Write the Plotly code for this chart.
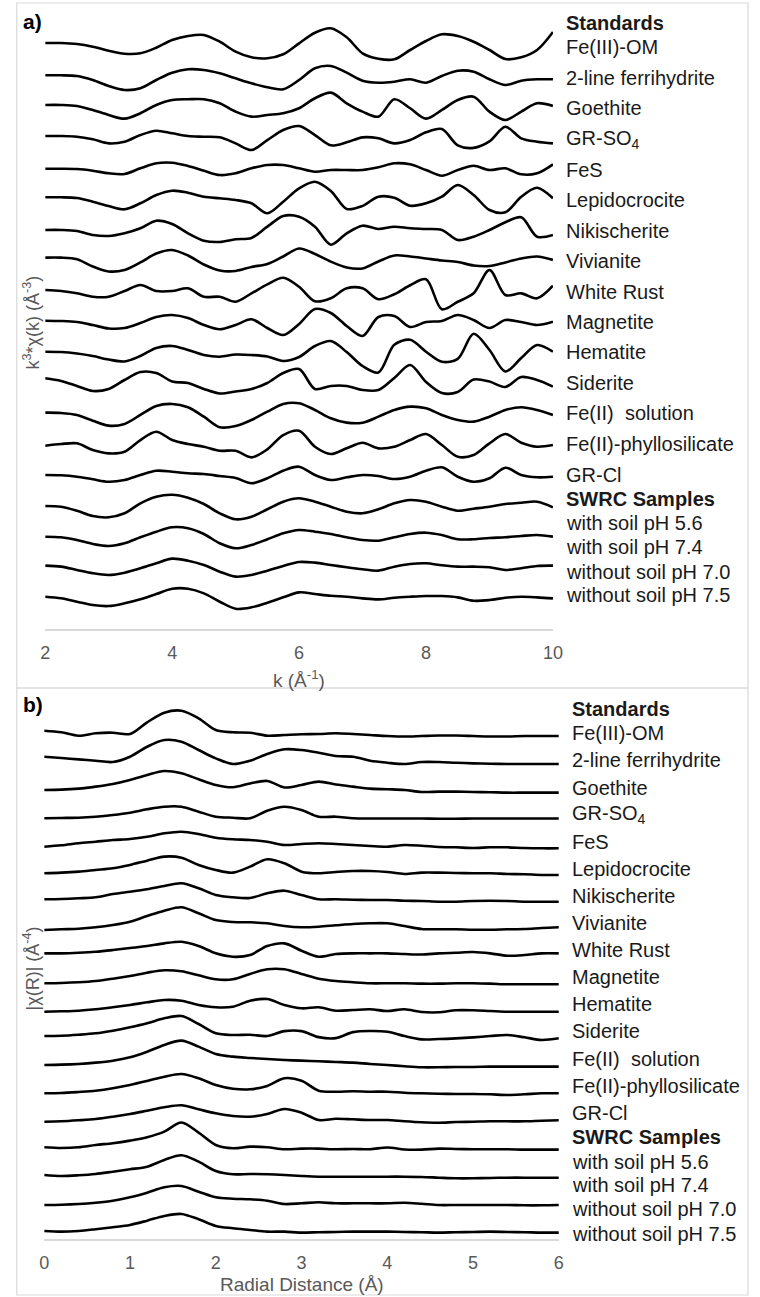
import plotly.graph_objects as go

W, H = 760, 1297

# ---------------- data: panel a, k^3*chi(k) ----------------
K = [2.0, 2.25, 2.5, 2.75, 3.0, 3.25, 3.5, 3.75, 4.0, 4.25, 4.5, 4.75, 5.0, 5.25, 5.5, 5.75,
     6.0, 6.25, 6.5, 6.75, 7.0, 7.25, 7.5, 7.75, 8.0, 8.25, 8.5, 8.75, 9.0, 9.25, 9.5, 9.75, 10.0]

k_fe3_om = [0, 0, -1, -3.7, -7.7, -10.7, -10.3, -4.7, 3, 7, 8, 1.3, -8.7, -14.3, -15.3, -11.3, -0.3, 10.3, 14.7, 5.7, -10.3, -15.7, -16.3, -7, 2, 8.7, 7, 1.3, -7, -16, -14.3, -7, 11]
k_ferrihydrite = [-1.5, -1.5, -2.2, -6.2, -12.2, -16.2, -14.5, -6.2, 1.1, 4.5, 3.8, 0.5, -4.5, -9.5, -13.5, -15.5, -6.2, 5.5, 7.8, 1.1, -6.9, -8.9, -7.9, -5.5, -8.9, -2.2, 3.1, 2.1, -5.5, -11.2, -6.9, -5.5, -5.5]
k_goethite = [-0.4, -0.4, -1.4, -5.4, -10.4, -14.1, -8.7, -0.4, 4.6, 5.3, 5.3, 1.3, -7.1, -12.1, -10.4, -8.7, -3.7, 6.3, 11.9, 1.3, -7.1, -12.1, 5.3, -3.7, -14.1, -5.4, 4.6, 7.9, -7.1, -15.4, -7.1, 1.3, -1.4]
k_gr_so4 = [-0.7, -0.7, -1.4, -4, -8, -6.4, 0.3, 4.6, 2, -0.7, -1.4, -2, -8, -14.7, -4.7, 5.3, 9.3, 0.3, -10, -7, -2, -3, -8, -4.7, 3, 6.3, -10, -12.5, -6, 8.6, -3, -6.4, -8]
k_fes = [-2.6, -2.6, -2.9, -4.6, -7.2, -7.9, -2.2, 2.8, 3.4, 0.1, -4.6, -8.9, -7.2, -2.2, 1.1, 1.1, -2.2, -5.6, -3.9, -3.9, -3.9, -1.2, 2.8, 1.8, -3.9, -9.6, -3.9, 0.4, -3.9, -2.2, -8.2, -7.2, 1.8]
k_lepidocrocite = [-0.4, -0.4, -1.1, -4.8, -9.1, -12.4, -6.4, 1.9, 6.2, 4.2, 0.2, -1.4, -3.1, -6.4, -16.4, -4.8, 8.6, 15.2, 6, -12, -9, 0.2, -0.8, -8.8, -6.4, 0.2, 11.9, 1.9, -13.1, -15.4, 0.2, 9.2, -1.4]
k_nikischerite = [-2.3, -2.3, -3.3, -7.3, -8.3, -5.6, -0.6, 7.0, 3.7, -5.6, -13, -14.3, -11.6, -10.3, 1.0, 11.7, 11.0, 1.0, -17, -5.6, 2, -1.3, 1, -0.6, -1.3, -2.3, -12.3, -9, -2.3, 5.4, 10.4, -9, -7.3]
k_vivianite = [0.8, 0.8, -0.8, -8, -13, -11.5, -4, 5, 8.5, 3, -6, -12, -12.5, -8.5, -5.5, 2, 10, 4.5, -3.2, -9, -10, -3, 3, 2, 0, -2, -3.5, -7, -7.5, -4, 0, 2, -1.5]
k_white_rust = [-0.8, -1.8, -4.1, -7.5, -7.5, -1.8, 4.2, -1.8, -1.8, 0.9, -7.5, -7.5, -12.5, -4.1, 4.9, 11.5, 2.5, -12, -9, 0.9, 0.9, -10, -5, 4, 10, -20, -12.5, -4.1, 19.2, -5.8, -4.1, -9.1, 3.5]
k_magnetite = [-0.7, -1, -2, -5, -8.5, -8, -3, 3, 5, 2, -5, -9.3, -5, 0.7, -8, -15, -4, 11, 7, -6, -16, 3, 4, -7, -2, -1, 5, 0, -8, 0, -2, -5, -1.7]
k_hematite = [-0.9, -1.2, -2.7, -5.2, -8.7, -10.7, -5.2, 2.8, 4.8, 0.8, -4.2, -5.9, -3.7, -4.2, -5.7, -10.2, -6.2, 4.8, 9.8, -1.2, -15.2, -21.7, 6, 11, -0.9, -11, -8, 17, 0.8, -20.7, -7.2, 5.8, -0.9]
k_siderite = [3.3, 0.6, -4.4, -9.4, -7.4, 1.6, 9.6, 8.6, 0.1, -1.4, -7.4, -11.9, -9.9, -7.4, -1.4, 8.6, 12.6, -7.4, -4.4, -4.4, -8.4, -8.4, 3.6, 16.6, -0.4, -11.4, -10.4, 2, 0, -5.4, 4.6, 1.6, -5.1]
k_fe2_solution = [-0.3, -0.6, -2.6, -8.3, -13.3, -11.6, -2.6, 6.4, 8.4, 5.1, -4.3, -14.9, -13.6, -7.6, 0.7, 8.4, 9.1, 2.4, -5.9, -10.3, -10.3, -4.3, 2.4, 5.7, 4.1, -2.6, -7.6, -9.3, -4.3, 2.4, 5.1, 2.4, -2.6]
k_fe2_phyllo = [-2.6, -0.9, -0.2, -6.9, -10.2, -8.6, 3.1, 11.4, 3.1, -0.9, -3.6, -7.6, -7.6, -14.2, -6.2, 8.1, 12.4, -3.6, -10.9, -5.2, 0.4, -5.2, -3.6, 3.1, 9.1, -1.9, -13.6, -11.9, -0.2, 9.1, 0.4, -3.6, -1.9]
k_gr_cl = [-1.1, -1.4, -2.8, -5.4, -7.8, -6.1, -1.1, 3.2, 2.2, 0.6, -0.1, -2.1, -4.1, -9.4, -4.4, 3.2, 7.2, -1.1, -6.1, -3.4, -1.1, -2.1, -5.1, -2.8, 3.2, 6.6, -2.8, -7.8, -4.4, 6.2, -1.1, -3.4, -2.8]
k_soil_56 = [-1.3, -2, -6, -11.3, -12.6, -8.6, 1.4, 8, 10, 7, 0.7, -8.6, -14.6, -12, -4.6, 3, 6.4, 3, -2, -7, -8.6, -4.6, 1.4, 4.7, 3, -2, -6, -4, -2, 0.7, 2, 3, -2.6]
k_soil_74 = [-1.2, -1.8, -4.5, -8.5, -10.5, -7.8, -1.8, 3.8, 8.2, 7.2, 1.5, -7.8, -12.8, -9.5, -3.8, 2.2, 5.5, 3.8, 1.5, -1.8, -4.5, -5.2, -1.8, 1.5, 2.8, 0.5, -3.8, -3.8, -2.5, -1.8, -0.5, 0.5, -1.2]
k_nosoil_70 = [0.6, -0.4, -3.7, -7, -8.7, -6.4, -2, 3, 7.6, 5.6, 1.3, -5.4, -10.4, -8.7, -4.4, 0.3, 4.3, 3.6, 1.3, -1, -3, -4.4, -0.4, 2.3, 3, 1, -0.4, -0.4, -1, -3.7, -2, 0.3, 0.6]
k_nosoil_75 = [0.3, -1.3, -4.7, -8, -9, -6.3, -2.3, 3, 8.3, 8.3, 3.7, -4.7, -11.7, -10.3, -5.7, -0.3, 4.7, 3, 1.3, 0.3, -1.3, -2.3, -0.7, 0.3, 1, 1, -0.3, -3.7, -3, -0.7, 0.3, -0.3, -1.3]

# ---------------- data: panel b, |chi(R)| ----------------
R = [0.0, 0.2, 0.4, 0.6, 0.8, 1.0, 1.2, 1.4, 1.6, 1.8, 2.0, 2.2, 2.4, 2.6, 2.8, 3.0,
     3.2, 3.4, 3.6, 3.8, 4.0, 4.2, 4.4, 4.6, 4.8, 5.0, 5.2, 5.4, 5.6, 5.8, 6.0]

r_fe3_om = [-0.7, -2.3, -5.7, -3.3, -2.7, -4, 7.7, 17.3, 19.3, 11.7, 0, -2.3, -2.7, -5.7, -5, -4.3, -4, -3.3, -4, -5, -6, -6.5, -6, -5.5, -5.5, -6, -6.5, -6.5, -6, -6, -6]
r_ferrihydrite = [1.1, -0.2, -1.5, -2.9, -4.2, 1.1, 11.1, 17.8, 16.1, 7.8, -0.5, -6.2, -2.9, 3.8, 8.5, 7.8, 5.1, 1.8, 1.1, -2.9, -4.9, -6.2, -4.2, -4.2, -4.9, -5.5, -5.9, -6.2, -6.2, -6.2, -6.2]
r_goethite = [-4.3, -4, -3, -1, 1.7, 5.7, 10.7, 14.7, 12.4, 6.4, 0.7, -1.6, 2.2, 4.7, -1.8, 0.7, 4, 1.2, -1, -3, -3.6, -4.3, -6.3, -6, -6, -6.3, -6.6, -7, -7, -7, -7]
r_gr_so4 = [-4.8, -4.5, -4.2, -3.2, -1.5, 0.8, 4.2, 6.8, 6.8, 1.8, -3.2, -4.2, -4.8, 2.8, 6.8, 3.5, -3.2, -3.2, -4.7, -5, -5, -5, -5, -5.3, -5.3, -5, -5, -5, -5, -5, -5]
r_fes = [-5.4, -4, -2, -0.4, 1.3, 2.3, 4.6, 8, 9.6, 7.3, 3.6, 2, 1.3, -0.4, -3.7, -2.7, -2, -2.7, -3.7, -4.7, -5.4, -3.7, -4.4, -5.7, -6, -6.7, -6, -6, -6.7, -7, -7]
r_lepidocrocite = [-4.1, -3.5, -2.5, -0.8, 0.9, 4.2, 8.5, 12.5, 11.5, 4.2, -0.8, -3.5, 2.5, 9.9, 5.9, -2.5, -4.1, -2.8, -1.8, -1.8, -2.8, -4.8, -3.5, -3.5, -3.8, -4.1, -4.1, -4.8, -5.1, -5.8, -5.8]
r_nikischerite = [-2.3, -2, -1.3, -0.3, 3, 5.3, 7.7, 11, 13.7, 8.7, 2, -0.3, -1, 3.7, 6.3, 2, -2.3, -2.3, -2.7, -3, -3, -3.7, -4, -4.7, -4.7, -4, -3.7, -4, -4.7, -4.7, -4.7]
r_vivianite = [-5.2, -4.5, -3.9, -2.5, -0.2, 3.1, 8.8, 14.1, 17.5, 11.5, 4.8, 2.8, 2.5, 1.5, -1.2, -2.5, -1.9, -0.5, 0.8, 1.5, 1.5, -1.2, -4.2, -4.5, -4.5, -4.9, -4.9, -4.5, -4.2, -3.2, -2.5]
r_white_rust = [-0.7, -0.7, -0.1, 0.9, 2.6, 4.6, 6.6, 9.3, 10.9, 6.6, -0.7, -4.1, -2.4, 6.6, 9.3, 1.9, -4.1, -1.4, -0.7, -0.7, -0.7, -1.4, -1.9, -0.7, -0.1, 0.6, -0.7, -3.1, -2.4, -0.7, -0.7]
r_magnetite = [-2.8, -2.5, -1.8, -0.5, 1.8, 4.5, 7.8, 10.2, 9.2, 5.2, 1.2, 1.2, 6.5, 11.2, 11.2, 6.5, 1.8, -0.5, -1.8, -2.8, -2.8, -2.8, -3.2, -3.2, -2.8, -2.8, -3.2, -3.8, -3.8, -3.8, -3.8]
r_hematite = [-3.4, -3, -2.4, -1, 1, 3.3, 6, 8.3, 7.6, 3.3, 1, 1.6, 7.6, 9.3, 3.3, 0, 1, -2.4, -1.7, -1, -2.7, -1, -3.7, -4, -2, -2, -2.7, -3.4, -3.4, -3.4, -3.4]
r_siderite = [0.1, 0.4, 1.4, 2.8, 5.4, 8.8, 12.8, 17.8, 20.1, 12.1, 2.8, 1.1, 1.4, 0.1, 5, 5, -1, -2, 4, 5.1, 4.4, 0.1, -3.2, -2.9, -2.2, -1.2, 0.1, 1.1, -1.2, -3.9, -2.2]
r_fe2_solution = [-1, -0.7, 0, 1.3, 3.3, 6.7, 12.3, 19, 23.3, 17.3, 10, 7.3, 6, 5, 4, 3.3, 2.7, 2, 1.3, 0, -1, -2.3, -3.3, -3.3, -3, -3, -2.7, -2.7, -2.7, -2.7, -2.7]
r_fe2_phyllo = [-1.5, -1.2, -0.2, 1.1, 3.5, 6.8, 10.8, 15.1, 17.8, 13.5, 6.8, 3.1, 2.5, 5.8, 13.5, 11.1, 1.1, 0.1, 0.5, 0.1, 0.1, -0.9, -1.5, -1.9, -2.2, -2.2, -2.5, -3.2, -2.5, -1.5, -1.5]
r_gr_cl = [-2.1, -1.7, -0.7, 0.6, 2.9, 5.6, 8.9, 12.3, 14.3, 10.3, 6.3, 3.6, 2.9, 5.6, 10.6, 6.9, -0.4, 0.9, 0.3, -0.4, -0.4, -1.7, -2.7, -3.1, -2.4, -2.1, -1.7, -1.7, -1.7, -1.1, -0.7]
r_soil_56 = [0.2, -0.5, 0.2, 2.5, 4.2, 6.8, 10.2, 15.8, 25, 14.8, 2.5, -0.8, 0.8, 0.2, -1.8, -1.2, -1.2, -1.8, -1.5, -1.8, 0, -2, -2.2, -1.2, -1.5, -1.8, -1.8, -1.8, -2.2, -2.2, -2.2]
r_soil_74 = [0.3, -0.7, 0, 1.3, 3.6, 6, 8.6, 15.3, 20, 13.6, 4.3, 1, 1.3, 1, 0.3, -0.7, -1.4, -1.4, -1.4, -1.4, -1.4, -1.4, -1.7, -2.4, -3, -3, -2.7, -2.4, -2.4, -2.4, -2.4]
r_nosoil_70 = [-1.9, -1.6, -0.9, 0.4, 2.4, 5.8, 10.4, 15.8, 17.1, 11.4, 5.8, 4.4, 3.8, 2.4, -0.9, -0.2, 0.8, -0.2, -0.2, -0.2, -0.2, 0.4, -0.6, -1.9, -1.9, -1.9, -1.9, -1.9, -2.2, -2.2, -1.9]
r_nosoil_75 = [0, -0.7, 0, 1.7, 3.7, 6, 10.3, 15, 17, 11.7, 5, 2.7, 1, -0.7, -0.7, -1.7, -1.3, -1, -0.7, -0.7, -0.7, -1, -1.3, -1.7, -1.3, -1, -0.7, -1, -1.3, -1.7, -1.7]

STANDARDS = ["Fe(III)-OM", "2-line ferrihydrite", "Goethite", "GR-SO<sub>4</sub>", "FeS",
             "Lepidocrocite", "Nikischerite", "Vivianite", "White Rust", "Magnetite",
             "Hematite", "Siderite", "Fe(II)\u00a0 solution", "Fe(II)-phyllosilicate", "GR-Cl"]
SAMPLES = ["with soil pH 5.6", "with soil pH 7.4", "without soil pH 7.0", "without soil pH 7.5"]

SERIES_K = [k_fe3_om, k_ferrihydrite, k_goethite, k_gr_so4, k_fes, k_lepidocrocite,
            k_nikischerite, k_vivianite, k_white_rust, k_magnetite, k_hematite, k_siderite,
            k_fe2_solution, k_fe2_phyllo, k_gr_cl, k_soil_56, k_soil_74, k_nosoil_70, k_nosoil_75]
SERIES_R = [r_fe3_om, r_ferrihydrite, r_goethite, r_gr_so4, r_fes, r_lepidocrocite,
            r_nikischerite, r_vivianite, r_white_rust, r_magnetite, r_hematite, r_siderite,
            r_fe2_solution, r_fe2_phyllo, r_gr_cl, r_soil_56, r_soil_74, r_nosoil_70, r_nosoil_75]
NAMES = STANDARDS + SAMPLES

# ---------------- figure ----------------
STEP_A = 30.78   # vertical stacking offset, panel a
STEP_B = 27.83   # vertical stacking offset, panel b

fig = go.Figure()
for i, (name, vals) in enumerate(zip(NAMES, SERIES_K)):
    fig.add_trace(go.Scatter(x=K, y=[v - i * STEP_A for v in vals], mode="lines", name=name,
                             line=dict(color="black", width=2.6, shape="spline", smoothing=0.9),
                             xaxis="x", yaxis="y", showlegend=False, hoverinfo="skip"))
for i, (name, vals) in enumerate(zip(NAMES, SERIES_R)):
    fig.add_trace(go.Scatter(x=R, y=[v - i * STEP_B for v in vals], mode="lines", name=name,
                             line=dict(color="black", width=2.6, shape="spline", smoothing=0.9),
                             xaxis="x2", yaxis="y2", showlegend=False, hoverinfo="skip"))


def px(x):
    return x / W


def py(y):
    return 1 - y / H


FONT = "Liberation Sans, Arial, sans-serif"
GRAY = "#595959"
axis_common = dict(showline=True, linecolor="#d9d9d9", linewidth=1.5, showgrid=False,
                   zeroline=False, ticks="", ticklabelstandoff=7,
                   tickfont=dict(family=FONT, size=18, color=GRAY), fixedrange=True)

fig.update_layout(
    width=W, height=H, autosize=False,
    margin=dict(l=0, r=0, t=0, b=0),
    paper_bgcolor="white", plot_bgcolor="white",
    xaxis=dict(domain=[px(41), px(559)], range=[2, 10], tickvals=[2, 4, 6, 8, 10],
               anchor="y", **axis_common),
    yaxis=dict(domain=[py(629), py(15)], range=[-586, 28], visible=False, fixedrange=True),
    xaxis2=dict(domain=[px(40), px(565)], range=[0, 6], tickvals=[0, 1, 2, 3, 4, 5, 6],
                anchor="y2", **axis_common),
    yaxis2=dict(domain=[py(1239), py(700)], range=[-509, 30], visible=False, fixedrange=True),
)

ann = []
LABEL_FONT = dict(family=FONT, size=20, color="#1a1a1a")
BOLD_FONT = dict(family=FONT, size=20, color="#1a1a1a")


def label(x, y, text, font, **kw):
    d = dict(x=px(x), y=py(y), xref="paper", yref="paper", text=text, showarrow=False,
             xanchor="left", yanchor="middle", font=font)
    d.update(kw)
    ann.append(d)


# panel a labels
label(570, 23, "<b>Standards</b>", BOLD_FONT)
for i, t in enumerate(STANDARDS):
    label(570, 47.5 + 30.5 * i, t, LABEL_FONT)
label(570, 499, "<b>SWRC Samples</b>", BOLD_FONT)
for y, t in zip([523, 547, 572, 595], SAMPLES):
    label(570, y, t, LABEL_FONT)

# panel b labels
label(576, 709, "<b>Standards</b>", BOLD_FONT)
for i, t in enumerate(STANDARDS):
    label(576, 733.3 + 27.1 * i, t, LABEL_FONT)
label(576, 1137, "<b>SWRC Samples</b>", BOLD_FONT)
for y, t in zip([1162, 1185, 1209, 1234], SAMPLES):
    label(576, y, t, LABEL_FONT)

# panel tags
label(16, 21, "<b>a)</b>", dict(family=FONT, size=21, color="black"))
label(16, 704, "<b>b)</b>", dict(family=FONT, size=21, color="black"))

# axis titles
TITLE_FONT = dict(family=FONT, size=19, color=GRAY)
label(300, 679, "k (Å<sup>-1</sup>)", TITLE_FONT, xanchor="center")
label(303, 1284, "Radial Distance (Å)", TITLE_FONT, xanchor="center")
label(27, 322, "k<sup>3</sup>*χ(k) (Å<sup>-3</sup>)", dict(family=FONT, size=18, color=GRAY),
      xanchor="center", textangle=-90)
label(27, 968, "|χ(R)| (Å<sup>-4</sup>)", dict(family=FONT, size=18, color=GRAY),
      xanchor="center", textangle=-90)

fig.update_layout(annotations=ann)

# panel frames
for (y0, y1) in [(3, 688), (688, 1295)]:
    fig.add_shape(type="rect", xref="paper", yref="paper", x0=px(12), x1=px(758),
                  y0=py(y1), y1=py(y0), line=dict(color="#d9d9d9", width=1.2),
                  fillcolor="rgba(0,0,0,0)", layer="below")

fig.write_html("out.html", config={"responsive": False, "displayModeBar": False})
